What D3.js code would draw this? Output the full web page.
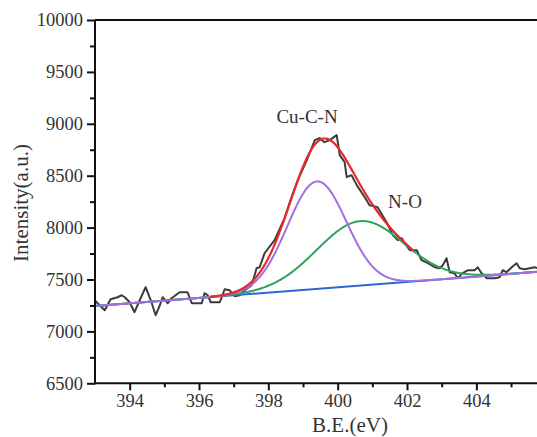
<!DOCTYPE html>
<html><head><meta charset="utf-8">
<script src="https://cdn.jsdelivr.net/npm/d3@7/dist/d3.min.js"></script>
<style>html,body{margin:0;padding:0;background:#fff;overflow:hidden}</style>
</head><body>
<svg id="c" width="537" height="437"></svg>
<script>
// Raw spectrum (binding energy eV, counts)
const rawBE = [392.99,393.28,393.45,393.65,393.77,393.86,394.00,394.14,394.29,394.46,394.61,394.75,394.87,394.95,395.10,395.21,395.44,395.67,395.79,396.08,396.16,396.25,396.34,396.60,396.74,396.88,397.03,397.17,397.32,397.52,397.66,397.75,397.89,398.18,398.47,398.67,398.85,399.11,399.34,399.48,399.62,399.77,399.97,400.06,400.20,400.26,400.40,400.55,400.78,400.92,401.15,401.41,401.59,401.73,401.85,401.93,402.08,402.28,402.42,402.60,402.80,402.94,403.03,403.14,403.23,403.37,403.46,403.60,403.75,403.95,404.04,404.15,404.30,404.53,404.67,404.76,404.87,405.02,405.16,405.25,405.39,405.54,405.68,405.85];
const rawCounts = [7300,7204,7310,7329,7348,7329,7281,7185,7300,7426,7300,7156,7252,7329,7271,7320,7377,7377,7271,7271,7368,7348,7281,7281,7406,7397,7339,7348,7397,7445,7609,7618,7753,7879,8091,8293,8457,8650,8843,8862,8823,8843,8891,8698,8631,8486,8505,8409,8293,8216,8197,8052,7927,7879,7898,7850,7782,7782,7686,7657,7618,7609,7638,7705,7570,7561,7512,7561,7589,7589,7618,7561,7512,7512,7522,7589,7570,7618,7657,7609,7599,7609,7618,7600];

// Linear background endpoints
const bgBE = [393, 406];
const bgCounts = [7245, 7580];

// Fitted Gaussian components
const peakNames = ["Cu-C-N", "N-O"];
const peakCenters = [399.4, 400.65];
const peakHeights = [1035, 620];
const peakFWHM = [2.0, 2.95];

// Axis ticks
const xTicks = [394, 396, 398, 400, 402, 404];
const yTicks = [6500, 7000, 7500, 8000, 8500, 9000, 9500, 10000];

const svg = d3.select("#c");
const L = 95, T = 20, B = 383.3;
const x = d3.scaleLinear().domain([393, 406]).range([L, L + 13 * 34.67]);
const y = d3.scaleLinear().domain([6500, 10000]).range([B, T]);

const bg = d3.scaleLinear().domain(bgBE).range(bgCounts);
const gauss = (i, e) => {
  const s = peakFWHM[i] / 2.3548;
  return peakHeights[i] * Math.exp(-((e - peakCenters[i]) ** 2) / (2 * s * s));
};
const grid = d3.range(393, 406.001, 0.02);

svg.append("clipPath").attr("id", "pa").append("rect")
  .attr("x", L).attr("y", T).attr("width", 600).attr("height", B - T);
const g = svg.append("g").attr("clip-path", "url(#pa)");
const line = d3.line().x(d => x(d[0])).y(d => y(d[1]));

// raw data
g.append("path").datum(rawBE.map((e, i) => [e, rawCounts[i]]))
  .attr("d", line).attr("fill", "none").attr("stroke", "#3c3c3c").attr("stroke-width", 2).attr("stroke-linejoin", "round");
// background
g.append("path").datum(bgBE.map((e, i) => [e, bgCounts[i]]))
  .attr("d", line).attr("fill", "none").attr("stroke", "#2a68d2").attr("stroke-width", 2);
// N-O component (green)
g.append("path").datum(grid.map(e => [e, bg(e) + gauss(1, e)]))
  .attr("d", line).attr("fill", "none").attr("stroke", "#2fa35c").attr("stroke-width", 2);
// Cu-C-N component (purple)
g.append("path").datum(grid.map(e => [e, bg(e) + gauss(0, e)]))
  .attr("d", line).attr("fill", "none").attr("stroke", "#a46ee0").attr("stroke-width", 2);
// envelope (red)
g.append("path").datum(grid.filter(e => e > 396.3 && e < 402.2).map(e => [e, bg(e) + gauss(0, e) + gauss(1, e)]))
  .attr("d", line).attr("fill", "none").attr("stroke", "#e8282c").attr("stroke-width", 2.2);

// axes
const font = "'Liberation Serif','Times New Roman',serif";
const xAxis = svg.append("g").attr("transform", `translate(0,${B})`)
  .call(d3.axisBottom(x).tickValues(xTicks).tickSize(7).tickSizeOuter(0).tickPadding(4).tickFormat(d3.format("d")));
const xMinor = svg.append("g").attr("transform", `translate(0,${B})`)
  .call(d3.axisBottom(x).tickValues([395, 397, 399, 401, 403, 405]).tickSize(4).tickSizeOuter(0).tickFormat(""));
xMinor.select(".domain").remove();
const yAxis = svg.append("g").attr("transform", `translate(${L},0)`)
  .call(d3.axisLeft(y).tickValues(yTicks).tickSize(8).tickSizeOuter(0).tickPadding(4).tickFormat(d3.format("d")));
const yMinor = svg.append("g").attr("transform", `translate(${L},0)`)
  .call(d3.axisLeft(y).tickValues(d3.range(6750, 10000, 500)).tickSize(5).tickSizeOuter(0).tickFormat(""));
yMinor.select(".domain").remove();
[xAxis, yAxis, xMinor, yMinor].forEach(a => {
  a.selectAll("path,line").attr("stroke", "#111").attr("stroke-width", 2);
  a.selectAll("text").attr("font-family", font).attr("font-size", 18.5).attr("fill", "#333");
});
xAxis.select(".domain").attr("d", `M${L - 1},0H600`);
yAxis.select(".domain").attr("d", `M0,${T}V${B + 1}`);
// top frame
svg.append("line").attr("x1", L).attr("x2", 600).attr("y1", T).attr("y2", T)
  .attr("stroke", "#111").attr("stroke-width", 2);

// titles
svg.append("text").attr("x", 350).attr("y", 432).attr("text-anchor", "middle")
  .attr("font-family", font).attr("font-size", 21).attr("fill", "#333").text("B.E.(eV)");
svg.append("text").attr("transform", "translate(28,203) rotate(-90)").attr("text-anchor", "middle")
  .attr("font-family", font).attr("font-size", 21).attr("fill", "#333").text("Intensity(a.u.)");

// peak labels
svg.append("text").attr("x", 307).attr("y", 123).attr("text-anchor", "middle")
  .attr("font-family", font).attr("font-size", 19).attr("fill", "#333").text(peakNames[0]);
svg.append("text").attr("x", 405).attr("y", 208).attr("text-anchor", "middle")
  .attr("font-family", font).attr("font-size", 19).attr("fill", "#333").text(peakNames[1]);
</script>
</body></html>
